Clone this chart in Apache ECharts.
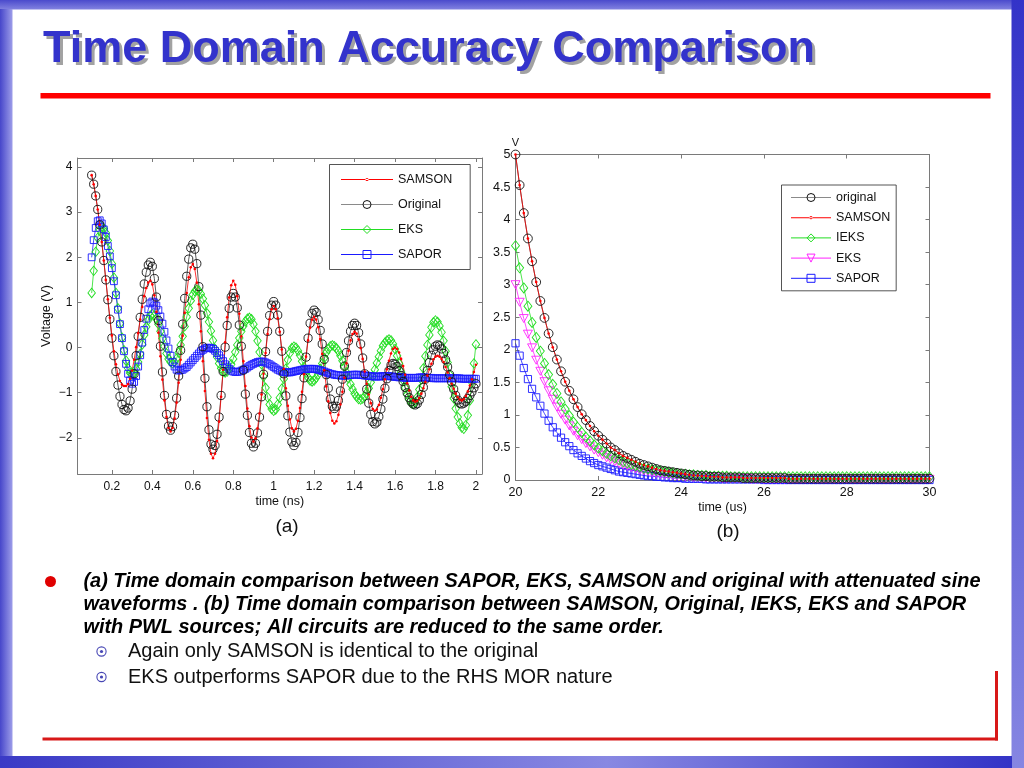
<!DOCTYPE html>
<html><head><meta charset="utf-8">
<script src="https://cdn.jsdelivr.net/npm/echarts@6/dist/echarts.min.js"></script>
<style>html,body{margin:0;padding:0;background:#fff;}#c{width:1024px;height:768px;}</style>
</head><body><div id="c"></div>
<script>
// ---------- panel (a): attenuated sine, time in ns ----------
const timeNs = [
0.10,0.11,0.12,0.13,0.14,0.15,0.16,0.17,0.18,0.19,
0.20,0.21,0.22,0.23,0.24,0.25,0.26,0.27,0.28,0.29,
0.30,0.31,0.32,0.33,0.34,0.35,0.36,0.37,0.38,0.39,
0.40,0.41,0.42,0.43,0.44,0.45,0.46,0.47,0.48,0.49,
0.50,0.51,0.52,0.53,0.54,0.55,0.56,0.57,0.58,0.59,
0.60,0.61,0.62,0.63,0.64,0.65,0.66,0.67,0.68,0.69,
0.70,0.71,0.72,0.73,0.74,0.75,0.76,0.77,0.78,0.79,
0.80,0.81,0.82,0.83,0.84,0.85,0.86,0.87,0.88,0.89,
0.90,0.91,0.92,0.93,0.94,0.95,0.96,0.97,0.98,0.99,
1.00,1.01,1.02,1.03,1.04,1.05,1.06,1.07,1.08,1.09,
1.10,1.11,1.12,1.13,1.14,1.15,1.16,1.17,1.18,1.19,
1.20,1.21,1.22,1.23,1.24,1.25,1.26,1.27,1.28,1.29,
1.30,1.31,1.32,1.33,1.34,1.35,1.36,1.37,1.38,1.39,
1.40,1.41,1.42,1.43,1.44,1.45,1.46,1.47,1.48,1.49,
1.50,1.51,1.52,1.53,1.54,1.55,1.56,1.57,1.58,1.59,
1.60,1.61,1.62,1.63,1.64,1.65,1.66,1.67,1.68,1.69,
1.70,1.71,1.72,1.73,1.74,1.75,1.76,1.77,1.78,1.79,
1.80,1.81,1.82,1.83,1.84,1.85,1.86,1.87,1.88,1.89,
1.90,1.91,1.92,1.93,1.94,1.95,1.96,1.97,1.98,1.99,
2.00];
const originalA = [
3.82,3.62,3.36,3.06,2.72,2.34,1.93,1.50,1.06,0.63,
0.21,-0.18,-0.53,-0.83,-1.08,-1.26,-1.37,-1.40,-1.34,-1.18,
-0.92,-0.58,-0.18,0.25,0.67,1.07,1.41,1.67,1.83,1.89,
1.80,1.53,1.12,0.60,0.03,-0.54,-1.06,-1.48,-1.74,-1.83,
-1.75,-1.50,-1.12,-0.63,-0.06,0.52,1.09,1.58,1.96,2.21,
2.29,2.18,1.86,1.35,0.72,0.02,-0.68,-1.31,-1.82,-2.14,
-2.25,-2.17,-1.92,-1.54,-1.06,-0.53,0.01,0.49,0.87,1.12,
1.20,1.12,0.88,0.50,0.03,-0.50,-1.03,-1.50,-1.88,-2.12,
-2.20,-2.12,-1.89,-1.54,-1.09,-0.59,-0.09,0.36,0.71,0.94,
1.02,0.94,0.72,0.36,-0.08,-0.58,-1.07,-1.51,-1.87,-2.09,
-2.17,-2.10,-1.88,-1.55,-1.13,-0.67,-0.21,0.21,0.54,0.76,
0.83,0.78,0.62,0.38,0.08,-0.26,-0.60,-0.90,-1.14,-1.30,
-1.35,-1.30,-1.17,-0.96,-0.70,-0.41,-0.11,0.15,0.36,0.49,
0.54,0.49,0.33,0.08,-0.23,-0.58,-0.92,-1.23,-1.48,-1.64,
-1.69,-1.65,-1.53,-1.36,-1.14,-0.90,-0.69,-0.51,-0.39,-0.35,
-0.37,-0.42,-0.51,-0.62,-0.75,-0.88,-1.00,-1.11,-1.20,-1.25,
-1.27,-1.24,-1.16,-1.04,-0.88,-0.70,-0.51,-0.33,-0.17,-0.05,
0.03,0.06,0.04,-0.03,-0.13,-0.27,-0.43,-0.60,-0.76,-0.92,
-1.06,-1.16,-1.23,-1.25,-1.23,-1.19,-1.13,-1.06,-0.98,-0.89,
-0.80];
const samsonA = [
3.82,3.62,3.36,3.06,2.72,2.34,1.93,1.50,1.07,0.66,
0.27,-0.08,-0.37,-0.59,-0.74,-0.82,-0.85,-0.85,-0.81,-0.69,
-0.51,-0.27,0.01,0.32,0.62,0.90,1.14,1.32,1.44,1.48,
1.40,1.16,0.79,0.33,-0.19,-0.71,-1.17,-1.54,-1.78,-1.86,
-1.78,-1.57,-1.22,-0.78,-0.27,0.26,0.77,1.21,1.56,1.78,
1.85,1.74,1.44,0.96,0.36,-0.30,-0.96,-1.56,-2.04,-2.35,
-2.45,-2.35,-2.07,-1.64,-1.09,-0.49,0.12,0.67,1.11,1.38,
1.48,1.39,1.14,0.75,0.25,-0.30,-0.85,-1.35,-1.74,-1.99,
-2.08,-2.01,-1.79,-1.46,-1.04,-0.58,-0.12,0.30,0.63,0.85,
0.92,0.85,0.65,0.35,-0.04,-0.47,-0.90,-1.29,-1.59,-1.79,
-1.86,-1.80,-1.62,-1.34,-0.98,-0.59,-0.20,0.16,0.44,0.62,
0.68,0.62,0.45,0.19,-0.14,-0.50,-0.86,-1.19,-1.45,-1.62,
-1.68,-1.63,-1.49,-1.26,-0.98,-0.67,-0.35,-0.07,0.16,0.30,
0.35,0.31,0.18,-0.01,-0.25,-0.53,-0.80,-1.04,-1.23,-1.36,
-1.40,-1.37,-1.27,-1.11,-0.92,-0.70,-0.48,-0.29,-0.13,-0.03,
0.00,-0.03,-0.11,-0.25,-0.41,-0.60,-0.79,-0.95,-1.09,-1.17,
-1.20,-1.18,-1.12,-1.02,-0.90,-0.76,-0.62,-0.48,-0.36,-0.26,
-0.20,-0.18,-0.20,-0.25,-0.32,-0.43,-0.55,-0.68,-0.80,-0.91,
-1.02,-1.10,-1.15,-1.17,-1.14,-1.07,-0.97,-0.84,-0.70,-0.54,
-0.38];
const eksA = [
1.21,1.70,2.12,2.43,2.61,2.68,2.64,2.54,2.37,2.14,
1.86,1.55,1.21,0.87,0.53,0.22,-0.06,-0.29,-0.46,-0.56,
-0.60,-0.57,-0.47,-0.32,-0.14,0.07,0.28,0.46,0.61,0.71,
0.74,0.71,0.64,0.52,0.36,0.20,0.03,-0.13,-0.25,-0.32,
-0.35,-0.32,-0.24,-0.11,0.06,0.25,0.47,0.68,0.87,1.04,
1.17,1.25,1.28,1.26,1.19,1.08,0.94,0.76,0.57,0.37,
0.16,-0.03,-0.21,-0.35,-0.46,-0.53,-0.55,-0.53,-0.47,-0.37,
-0.25,-0.10,0.06,0.21,0.36,0.48,0.58,0.64,0.66,0.63,
0.52,0.36,0.15,-0.10,-0.37,-0.64,-0.89,-1.10,-1.26,-1.36,
-1.40,-1.37,-1.26,-1.11,-0.91,-0.69,-0.47,-0.27,-0.12,-0.01,
0.02,0.00,-0.07,-0.17,-0.30,-0.43,-0.56,-0.66,-0.73,-0.75,
-0.73,-0.67,-0.59,-0.47,-0.35,-0.23,-0.11,-0.03,0.03,0.05,
0.03,-0.01,-0.08,-0.18,-0.29,-0.42,-0.55,-0.68,-0.81,-0.92,
-1.02,-1.09,-1.14,-1.15,-1.13,-1.08,-1.00,-0.90,-0.77,-0.63,
-0.49,-0.34,-0.20,-0.07,0.04,0.11,0.16,0.18,0.16,0.08,
-0.03,-0.18,-0.35,-0.54,-0.72,-0.89,-1.04,-1.15,-1.23,-1.25,
-1.21,-1.10,-0.93,-0.71,-0.46,-0.19,0.06,0.28,0.45,0.56,
0.60,0.57,0.48,0.34,0.15,-0.08,-0.33,-0.60,-0.87,-1.12,
-1.35,-1.54,-1.68,-1.77,-1.80,-1.72,-1.50,-1.17,-0.77,-0.35,
0.07];
const saporA = [
2.00,2.38,2.65,2.80,2.82,2.75,2.62,2.45,2.25,2.02,
1.76,1.47,1.16,0.84,0.52,0.21,-0.08,-0.36,-0.58,-0.73,
-0.80,-0.76,-0.63,-0.42,-0.17,0.11,0.39,0.64,0.85,0.98,
1.02,1.00,0.93,0.83,0.69,0.53,0.35,0.16,-0.02,-0.18,
-0.32,-0.42,-0.49,-0.51,-0.50,-0.49,-0.46,-0.43,-0.38,-0.33,
-0.28,-0.23,-0.18,-0.13,-0.08,-0.05,-0.02,-0.01,0.00,-0.01,
-0.03,-0.07,-0.12,-0.17,-0.24,-0.30,-0.37,-0.42,-0.47,-0.51,
-0.53,-0.54,-0.54,-0.53,-0.51,-0.49,-0.47,-0.44,-0.41,-0.38,
-0.36,-0.34,-0.32,-0.31,-0.31,-0.31,-0.33,-0.35,-0.37,-0.40,
-0.43,-0.46,-0.49,-0.51,-0.53,-0.54,-0.55,-0.55,-0.55,-0.54,
-0.53,-0.52,-0.51,-0.50,-0.49,-0.48,-0.48,-0.47,-0.47,-0.47,
-0.47,-0.48,-0.49,-0.50,-0.52,-0.53,-0.55,-0.56,-0.58,-0.59,
-0.60,-0.61,-0.61,-0.62,-0.62,-0.62,-0.62,-0.61,-0.61,-0.60,
-0.60,-0.60,-0.60,-0.61,-0.61,-0.62,-0.62,-0.63,-0.63,-0.64,
-0.64,-0.64,-0.64,-0.64,-0.63,-0.63,-0.63,-0.63,-0.64,-0.64,
-0.65,-0.65,-0.66,-0.66,-0.66,-0.67,-0.67,-0.67,-0.67,-0.67,
-0.67,-0.67,-0.66,-0.66,-0.66,-0.66,-0.67,-0.67,-0.67,-0.68,
-0.68,-0.68,-0.68,-0.68,-0.68,-0.68,-0.68,-0.68,-0.68,-0.68,
-0.68,-0.68,-0.68,-0.69,-0.69,-0.69,-0.69,-0.69,-0.69,-0.69,
-0.69];
const xTicksA = [0.2,0.4,0.6,0.8,1,1.2,1.4,1.6,1.8,2];
const yTicksA = [-2,-1,0,1,2,3,4];

// ---------- panel (b): PWL source, time in us ----------
const timeUs = [
20.0,20.1,20.2,20.3,20.4,20.5,20.6,20.7,20.8,20.9,
21.0,21.1,21.2,21.3,21.4,21.5,21.6,21.7,21.8,21.9,
22.0,22.1,22.2,22.3,22.4,22.5,22.6,22.7,22.8,22.9,
23.0,23.1,23.2,23.3,23.4,23.5,23.6,23.7,23.8,23.9,
24.0,24.1,24.2,24.3,24.4,24.5,24.6,24.7,24.8,24.9,
25.0,25.1,25.2,25.3,25.4,25.5,25.6,25.7,25.8,25.9,
26.0,26.1,26.2,26.3,26.4,26.5,26.6,26.7,26.8,26.9,
27.0,27.1,27.2,27.3,27.4,27.5,27.6,27.7,27.8,27.9,
28.0,28.1,28.2,28.3,28.4,28.5,28.6,28.7,28.8,28.9,
29.0,29.1,29.2,29.3,29.4,29.5,29.6,29.7,29.8,29.9,
30.0];
const originalB = [
5.00,4.53,4.10,3.71,3.36,3.04,2.75,2.49,2.25,2.04,
1.85,1.67,1.51,1.37,1.24,1.12,1.01,0.92,0.83,0.75,
0.68,0.62,0.56,0.50,0.46,0.41,0.37,0.34,0.31,0.28,
0.25,0.23,0.21,0.19,0.17,0.15,0.14,0.13,0.12,0.11,
0.10,0.09,0.08,0.07,0.07,0.06,0.06,0.05,0.05,0.05,
0.04,0.04,0.04,0.04,0.04,0.03,0.03,0.03,0.03,0.03,
0.03,0.03,0.03,0.03,0.03,0.03,0.02,0.02,0.02,0.02,
0.02,0.02,0.02,0.02,0.02,0.02,0.02,0.02,0.02,0.02,
0.02,0.02,0.02,0.02,0.02,0.02,0.02,0.02,0.02,0.02,
0.02,0.02,0.02,0.02,0.02,0.02,0.02,0.02,0.02,0.02,
0.02];
const samsonB = [
5.00,4.53,4.10,3.71,3.36,3.04,2.75,2.49,2.25,2.04,
1.85,1.67,1.51,1.37,1.24,1.12,1.01,0.92,0.83,0.75,
0.68,0.62,0.56,0.50,0.46,0.41,0.37,0.34,0.31,0.28,
0.25,0.23,0.21,0.19,0.17,0.15,0.14,0.13,0.12,0.11,
0.10,0.09,0.08,0.07,0.07,0.06,0.06,0.05,0.05,0.05,
0.04,0.04,0.04,0.04,0.04,0.03,0.03,0.03,0.03,0.03,
0.03,0.03,0.03,0.03,0.03,0.03,0.02,0.02,0.02,0.02,
0.02,0.02,0.02,0.02,0.02,0.02,0.02,0.02,0.02,0.02,
0.02,0.02,0.02,0.02,0.02,0.02,0.02,0.02,0.02,0.02,
0.02,0.02,0.02,0.02,0.02,0.02,0.02,0.02,0.02,0.02,
0.02];
const ieksB = [
3.60,3.26,2.95,2.67,2.42,2.19,1.98,1.79,1.62,1.47,
1.33,1.20,1.09,0.99,0.89,0.81,0.73,0.66,0.60,0.54,
0.49,0.45,0.41,0.37,0.34,0.31,0.28,0.26,0.24,0.22,
0.20,0.18,0.17,0.16,0.15,0.14,0.13,0.12,0.11,0.10,
0.09,0.09,0.08,0.08,0.07,0.07,0.07,0.06,0.06,0.06,
0.06,0.06,0.05,0.05,0.05,0.05,0.05,0.05,0.05,0.05,
0.05,0.05,0.05,0.05,0.05,0.05,0.05,0.05,0.05,0.05,
0.05,0.05,0.05,0.05,0.05,0.05,0.05,0.05,0.05,0.05,
0.05,0.05,0.05,0.05,0.05,0.05,0.05,0.05,0.05,0.05,
0.05,0.05,0.05,0.05,0.05,0.05,0.05,0.05,0.05,0.05,
0.05];
const eksB = [
3.00,2.73,2.48,2.24,2.03,1.84,1.67,1.51,1.37,1.24,
1.12,1.01,0.92,0.83,0.75,0.68,0.62,0.56,0.51,0.46,
0.42,0.38,0.34,0.31,0.28,0.25,0.23,0.21,0.19,0.17,
0.15,0.14,0.13,0.11,0.10,0.09,0.08,0.08,0.07,0.06,
0.06,0.05,0.05,0.04,0.04,0.04,0.03,0.03,0.03,0.03,
0.02,0.02,0.02,0.02,0.02,0.02,0.02,0.01,0.01,0.01,
0.01,0.01,0.01,0.01,0.01,0.01,0.01,0.01,0.01,0.01,
0.01,0.01,0.01,0.01,0.01,0.01,0.01,0.01,0.01,0.01,
0.01,0.01,0.01,0.01,0.01,0.01,0.01,0.01,0.01,0.01,
0.01,0.01,0.01,0.01,0.01,0.01,0.01,0.01,0.01,0.01,
0.01];
const saporB = [
2.10,1.91,1.72,1.55,1.40,1.27,1.14,1.02,0.91,0.81,
0.73,0.65,0.58,0.52,0.46,0.41,0.37,0.33,0.29,0.26,
0.23,0.21,0.19,0.17,0.15,0.13,0.12,0.11,0.10,0.09,
0.08,0.07,0.06,0.06,0.05,0.05,0.04,0.04,0.03,0.03,
0.03,0.02,0.02,0.02,0.02,0.02,0.01,0.01,0.01,0.01,
0.01,0.01,0.01,0.01,0.01,0.01,0.01,0.01,0.01,0.01,
0.00,0.00,0.00,0.00,0.00,0.00,0.00,0.00,0.00,0.00,
0.00,0.00,0.00,0.00,0.00,0.00,0.00,0.00,0.00,0.00,
0.00,0.00,0.00,0.00,0.00,0.00,0.00,0.00,0.00,0.00,
0.00,0.00,0.00,0.00,0.00,0.00,0.00,0.00,0.00,0.00,
0.00];

// ---------- slide texts ----------
const slideTitle = 'Time Domain Accuracy Comparison';
const bodyLines = [
  '(a) Time domain comparison between SAPOR, EKS, SAMSON and original with attenuated sine',
  'waveforms . (b) Time domain comparison between SAMSON, Original, IEKS, EKS and SAPOR',
  'with PWL sources; All circuits are reduced to the same order.'
];
const subLines = [
  'Again only SAMSON is identical to the original',
  'EKS outperforms SAPOR due to the RHS MOR nature'
];

const FF = '"Liberation Sans", Arial, Helvetica, sans-serif';
const AX = '#7a7a7a';
const pairs = (xs, ys) => xs.map((x, i) => [x, ys[i]]);
const minusFmt = v => (v < 0 ? '\u2212' + (-v) : String(v));

function lineSeries(name, xi, yi, xs, ys, sym, size, stroke, lineColor, extra) {
  return Object.assign({
    name, type: 'line', xAxisIndex: xi, yAxisIndex: yi,
    data: pairs(xs, ys), symbol: sym, symbolSize: size, showAllSymbol: true,
    itemStyle: { color: 'rgba(0,0,0,0)', borderColor: stroke, borderWidth: 0.9 },
    lineStyle: { color: lineColor, width: 0.8 },
    silent: true, animation: false
  }, extra || {});
}
const dotSeriesStyle = () => ({ itemStyle: { color: '#ff0000', borderColor: '#ff0000', borderWidth: 0 } });

function mainXAxis(grid, min, max, extra) {
  return Object.assign({
    gridIndex: grid, type: 'value', min, max, position: 'bottom',
    axisLine: { onZero: false, lineStyle: { color: AX, width: 1 } },
    axisTick: { inside: true, length: 4, lineStyle: { color: AX } },
    splitLine: { show: false },
    nameLocation: 'middle', nameGap: 21,
    nameTextStyle: { fontFamily: FF, fontSize: 12.5, color: '#111' }
  }, extra);
}
function mirrorAxis(grid, min, max, pos, extra) {
  return Object.assign({
    gridIndex: grid, type: 'value', min, max, position: pos,
    axisLine: { onZero: false, lineStyle: { color: AX, width: 1 } },
    axisTick: { inside: true, length: 4, lineStyle: { color: AX } },
    axisLabel: { show: false }, splitLine: { show: false }
  }, extra);
}

const dotIconA = 'path://M0,4.5L52,4.5L52,5.5L0,5.5Z M24.4,5A1.6,1.6,0,1,0,27.6,5A1.6,1.6,0,1,0,24.4,5Z';
const dotIconB = 'path://M0,4.5L40,4.5L40,5.5L0,5.5Z M18.4,5A1.6,1.6,0,1,0,21.6,5A1.6,1.6,0,1,0,18.4,5Z';
const dotLegendStyle = () => ({ color: '#ff0000', borderColor: '#ff0000', borderWidth: 0 });
const legendBase = () => ({
  orient: 'vertical', selectedMode: false, itemHeight: 10,
  borderColor: '#2a2a2a', borderWidth: 0.8, backgroundColor: '#ffffff',
  textStyle: { fontFamily: FF, fontSize: 12.5, color: '#111' },
  lineStyle: { width: 1 }, itemStyle: { borderWidth: 1 }
});

const G = echarts.graphic;
const chart = echarts.init(document.getElementById('c'), null, { renderer: 'canvas' });
chart.setOption({
  animation: false,
  backgroundColor: '#ffffff',
  grid: [
    { left: 77.5, top: 158, width: 404.5, height: 316, containLabel: false, outerBoundsMode: 'none' },
    { left: 515.5, top: 154.5, width: 414, height: 325.5, containLabel: false, outerBoundsMode: 'none' }
  ],
  xAxis: [
    mainXAxis(0, 0.03, 2.03, {
      name: 'time (ns)',
      axisTick: { inside: true, length: 4, lineStyle: { color: AX }, customValues: xTicksA },
      axisLabel: { customValues: xTicksA, formatter: minusFmt, color: '#111', fontFamily: FF, fontSize: 12, margin: 7 }
    }),
    mirrorAxis(0, 0.03, 2.03, 'top', { axisTick: { inside: true, length: 4, lineStyle: { color: AX }, customValues: xTicksA } }),
    mainXAxis(1, 20, 30, {
      name: 'time (us)', interval: 2,
      axisLabel: { color: '#111', fontFamily: FF, fontSize: 12.5, margin: 6 }
    }),
    mirrorAxis(1, 20, 30, 'top', { interval: 2 })
  ],
  yAxis: [
    {
      gridIndex: 0, type: 'value', min: -2.8, max: 4.2, position: 'left',
      axisLine: { onZero: false, lineStyle: { color: AX, width: 1 } },
      axisTick: { inside: true, length: 4, lineStyle: { color: AX }, customValues: yTicksA },
      axisLabel: { customValues: yTicksA, formatter: minusFmt, color: '#111', fontFamily: FF, fontSize: 12, margin: 5 },
      splitLine: { show: false },
      name: 'Voltage (V)', nameLocation: 'middle', nameGap: 24,
      nameTextStyle: { fontFamily: FF, fontSize: 12.5, color: '#111' }
    },
    mirrorAxis(0, -2.8, 4.2, 'right', { axisTick: { inside: true, length: 4, lineStyle: { color: AX }, customValues: yTicksA } }),
    {
      gridIndex: 1, type: 'value', min: 0, max: 5, interval: 0.5, position: 'left',
      axisLine: { onZero: false, lineStyle: { color: AX, width: 1 } },
      axisTick: { inside: true, length: 4, lineStyle: { color: AX } },
      axisLabel: { color: '#111', fontFamily: FF, fontSize: 12.5, margin: 5 },
      splitLine: { show: false },
      name: 'V', nameLocation: 'end', nameGap: 2,
      nameTextStyle: { fontFamily: FF, fontSize: 11, color: '#111' }
    },
    mirrorAxis(1, 0, 5, 'right', { interval: 0.5 })
  ],
  legend: [
    Object.assign(legendBase(), {
      left: 329.5, top: 164.5, itemWidth: 52, itemGap: 12, padding: [8.5, 18, 8.5, 11],
      data: [
        { name: 'SAMSON', icon: dotIconA, itemStyle: dotLegendStyle() },
        { name: 'Original', lineStyle: { color: '#8a8a8a', width: 1 } },
        'EKS', 'SAPOR'
      ]
    }),
    Object.assign(legendBase(), {
      left: 781.5, top: 185, itemWidth: 40, itemGap: 7.2, padding: [6, 6, 6, 9],
      formatter: n => n.slice(2),
      data: [
        { name: 'b_original', lineStyle: { color: '#8a8a8a', width: 1 } },
        { name: 'b_SAMSON', icon: dotIconB, itemStyle: dotLegendStyle() },
        'b_IEKS', 'b_EKS', 'b_SAPOR'
      ]
    })
  ],
  series: [
    lineSeries('EKS', 0, 0, timeNs, eksA, 'diamond', [7.5, 9.5], '#22dd22', '#22dd22'),
    lineSeries('SAPOR', 0, 0, timeNs, saporA, 'rect', 6.8, '#1a1aff', '#1a1aff'),
    lineSeries('Original', 0, 0, timeNs, originalA, 'circle', 8.2, '#111111', '#333333'),
    lineSeries('SAMSON', 0, 0, timeNs, samsonA, 'circle', 2.6, '#ff0000', '#ff0000', dotSeriesStyle()),

    lineSeries('b_SAPOR', 2, 2, timeUs, saporB, 'rect', 7.2, '#1a1aff', '#1a1aff'),
    lineSeries('b_EKS', 2, 2, timeUs, eksB, 'triangle', [9, 8], '#ff22ff', '#ff22ff', { symbolRotate: 180 }),
    lineSeries('b_IEKS', 2, 2, timeUs, ieksB, 'diamond', [8, 10], '#22dd22', '#22dd22'),
    lineSeries('b_original', 2, 2, timeUs, originalB, 'circle', 8.8, '#111111', '#333333'),
    lineSeries('b_SAMSON', 2, 2, timeUs, samsonB, 'circle', 2.6, '#ff0000', '#ff0000', dotSeriesStyle())
  ],
  graphic: { elements: [
    { type: 'rect', silent: true, shape: { x: 0, y: 0, width: 1012, height: 9.5 },
      style: { fill: new G.LinearGradient(0, 0, 0, 1, [{ offset: 0, color: '#4a4acc' }, { offset: 1, color: '#8282e0' }]) } },
    { type: 'rect', silent: true, shape: { x: 0, y: 9, width: 12.5, height: 748 },
      style: { fill: new G.LinearGradient(0, 0, 1, 0, [{ offset: 0, color: '#4646ca' }, { offset: 1, color: '#9d9de9' }]) } },
    { type: 'rect', silent: true, shape: { x: 1011.5, y: 0, width: 12.5, height: 768 },
      style: { fill: new G.LinearGradient(0, 0, 0, 1, [{ offset: 0, color: '#3333c8' }, { offset: 1, color: '#8686e2' }]) } },
    { type: 'rect', silent: true, shape: { x: 0, y: 756, width: 1012, height: 12 },
      style: { fill: new G.LinearGradient(0, 0, 1, 0, [{ offset: 0, color: '#3a3ac6' }, { offset: 0.6, color: '#8888e2' }, { offset: 1, color: '#3333c6' }]) } },

    { type: 'text', silent: true, style: { text: slideTitle, x: 46, y: 53, fill: '#a2a2a2',
      font: 'bold 45px ' + FF, textAlign: 'left', textVerticalAlign: 'middle', align: 'left', verticalAlign: 'middle' } },
    { type: 'text', silent: true, style: { text: slideTitle, x: 43, y: 50, fill: '#3333cc',
      font: 'bold 45px ' + FF, textAlign: 'left', textVerticalAlign: 'middle', align: 'left', verticalAlign: 'middle' } },
    { type: 'rect', silent: true, shape: { x: 40.5, y: 93, width: 950, height: 5.5 }, style: { fill: '#ff0000' } },

    { type: 'text', silent: true, style: { text: '(a)', x: 287, y: 527, fill: '#111', font: '19px ' + FF,
      textAlign: 'center', textVerticalAlign: 'middle', align: 'center', verticalAlign: 'middle' } },
    { type: 'text', silent: true, style: { text: '(b)', x: 728, y: 532, fill: '#111', font: '19px ' + FF,
      textAlign: 'center', textVerticalAlign: 'middle', align: 'center', verticalAlign: 'middle' } },

    { type: 'circle', silent: true, shape: { cx: 50.5, cy: 581.5, r: 5.5 }, style: { fill: '#e00000' } },
    { type: 'text', silent: true, style: { text: bodyLines[0], x: 83.5, y: 581.5, fill: '#000', font: 'italic bold 19.9px ' + FF,
      textAlign: 'left', textVerticalAlign: 'middle', align: 'left', verticalAlign: 'middle' } },
    { type: 'text', silent: true, style: { text: bodyLines[1], x: 83.5, y: 604.5, fill: '#000', font: 'italic bold 19.9px ' + FF,
      textAlign: 'left', textVerticalAlign: 'middle', align: 'left', verticalAlign: 'middle' } },
    { type: 'text', silent: true, style: { text: bodyLines[2], x: 83.5, y: 627.5, fill: '#000', font: 'italic bold 19.9px ' + FF,
      textAlign: 'left', textVerticalAlign: 'middle', align: 'left', verticalAlign: 'middle' } },

    { type: 'circle', silent: true, shape: { cx: 101.5, cy: 651.5, r: 4.6 }, style: { fill: 'none', stroke: '#4646b4', lineWidth: 1.1 } },
    { type: 'circle', silent: true, shape: { cx: 101.5, cy: 651.5, r: 1.6 }, style: { fill: '#4646b4' } },
    { type: 'circle', silent: true, shape: { cx: 101.5, cy: 677, r: 4.6 }, style: { fill: 'none', stroke: '#4646b4', lineWidth: 1.1 } },
    { type: 'circle', silent: true, shape: { cx: 101.5, cy: 677, r: 1.6 }, style: { fill: '#4646b4' } },
    { type: 'text', silent: true, style: { text: subLines[0], x: 128, y: 651.5, fill: '#111', font: '20px ' + FF,
      textAlign: 'left', textVerticalAlign: 'middle', align: 'left', verticalAlign: 'middle' } },
    { type: 'text', silent: true, style: { text: subLines[1], x: 128, y: 677, fill: '#111', font: '20px ' + FF,
      textAlign: 'left', textVerticalAlign: 'middle', align: 'left', verticalAlign: 'middle' } },

    { type: 'rect', silent: true, shape: { x: 42.5, y: 737.5, width: 955.5, height: 3 }, style: { fill: '#d81818' } },
    { type: 'rect', silent: true, shape: { x: 995, y: 671, width: 3, height: 69.5 }, style: { fill: '#d81818' } }
  ] }
});
</script></body></html>
